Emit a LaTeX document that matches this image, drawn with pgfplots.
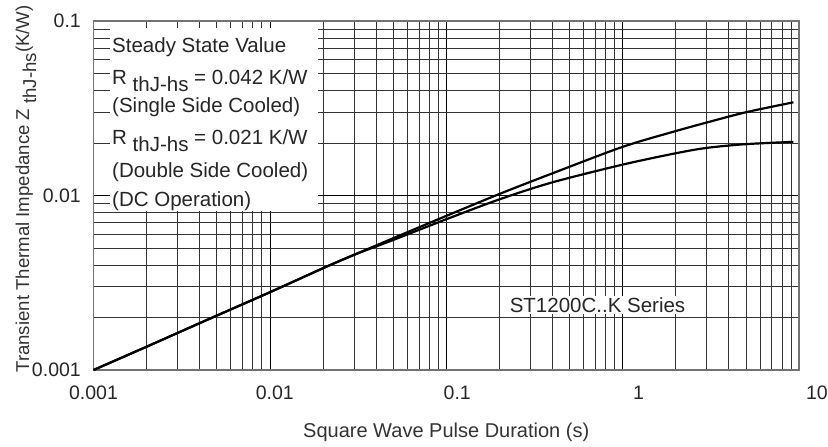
\documentclass[border=0pt]{standalone}
\usepackage{pgfplots}
\pgfplotsset{compat=1.18}
\usepackage{fontspec}
\setmainfont{Liberation Sans}
\usetikzlibrary{calc}

\newcommand\tickfont{\fontsize{19.5bp}{22bp}\selectfont}
\newcommand\boxfont{\fontsize{20.5bp}{24bp}\selectfont}

\begin{document}
\begin{tikzpicture}
\begin{axis}[
    name=ax,
    xmode=log, ymode=log,
    xmin=0.001, xmax=10,
    ymin=0.001, ymax=0.1,
    width=705.5bp, height=349bp,
    scale only axis,
    grid=both,
    major grid style={black, line width=0.7bp},
    minor grid style={black!80, line width=0.7bp},
    axis line style={black!55, line width=1.1bp},
    tick style={draw=none},
    xtick={0.001,0.01,0.1,1,10},
    xticklabels={0.001,\hspace*{10bp}0.01,\hspace*{22bp}0.1,\hspace*{32bp}1,\hspace*{36bp}10},
    minor xtick={0.002,0.003,0.004,0.005,0.006,0.007,0.008,0.009,
                 0.02,0.03,0.04,0.05,0.06,0.07,0.08,0.09,
                 0.2,0.3,0.4,0.5,0.6,0.7,0.8,0.9,
                 2,3,4,5,6,7,8,9},
    ytick={0.001,0.01,0.1},
    yticklabels={0.001,0.01,0.1},
    minor ytick={0.002,0.003,0.004,0.005,0.006,0.007,0.008,0.009,
                 0.02,0.03,0.04,0.05,0.06,0.07,0.08,0.09},
    xticklabel style={font=\tickfont, text=black!85, anchor=north, inner sep=0pt, yshift=-15.5bp},
    yticklabel style={font=\tickfont, text=black!85, anchor=east, inner sep=0pt, xshift=-12.5bp},
    xlabel={Square Wave Pulse Duration (s)},
    xlabel style={font=\fontsize{20bp}{24bp}\selectfont, text=black!80,
                  at={(axis description cs:0.5,0)}, anchor=center, yshift=-62bp},
    ylabel={Transient Thermal Impedance Z \raisebox{-7bp}{thJ-hs}(K/W)},
    ylabel style={font=\fontsize{18.6bp}{22bp}\selectfont, text=black!80,
                  at={(axis description cs:-0.0957,0.5186)}, anchor=center},
]
% single side cooled
\addplot[black, line width=2.2bp, smooth] coordinates {
    (0.001,0.001) (0.002,0.00136) (0.005,0.00205) (0.01,0.00279)
    (0.02,0.00383) (0.03,0.00457) (0.05,0.00569) (0.1,0.00764)
    (0.2,0.0102) (0.4,0.0134) (1,0.0190) (2,0.0234) (3,0.0262)
    (5,0.0300) (9.3,0.0342)
};
% double side cooled
\addplot[black, line width=2.2bp, smooth] coordinates {
    (0.001,0.001) (0.002,0.00136) (0.005,0.00205) (0.01,0.00279)
    (0.02,0.00383) (0.03,0.00457) (0.05,0.00556) (0.1,0.00731)
    (0.2,0.0095) (0.4,0.0119) (1,0.01503) (2,0.01746) (3,0.01875)
    (5,0.0197) (9.3,0.0203)
};
\end{axis}

\fill[white] ($(ax.north west)+(16.5bp,-7bp)$) rectangle ($(ax.north west)+(224.5bp,-190bp)$);
\begin{scope}[every node/.style={anchor=base west, inner sep=0pt, font=\boxfont, text=black!85}]
\node at ($(ax.north west)+(18.5bp,-31.3bp)$) {Steady State Value};
\node at ($(ax.north west)+(18.5bp,-63.3bp)$) {R \raisebox{-7.5bp}{thJ-hs} = 0.042 K/W};
\node at ($(ax.north west)+(18.5bp,-91.3bp)$) {(Single Side Cooled)};
\node at ($(ax.north west)+(18.5bp,-123.3bp)$) {R \raisebox{-7.5bp}{thJ-hs} = 0.021 K/W};
\node at ($(ax.north west)+(18.5bp,-156.3bp)$) {(Double Side Cooled)};
\node at ($(ax.north west)+(18.5bp,-185.3bp)$) {(DC Operation)};
\end{scope}
\node[fill=white, inner sep=1.5bp, anchor=center, font=\boxfont, text=black!85]
    at ($(ax.north west)+(504bp,-284bp)$) {ST1200C..K Series};

\pgfresetboundingbox
\path ($(ax.south west)+(-93.5bp,-77bp)$) rectangle ($(ax.north east)+(29bp,21bp)$);
\end{tikzpicture}
\end{document}
